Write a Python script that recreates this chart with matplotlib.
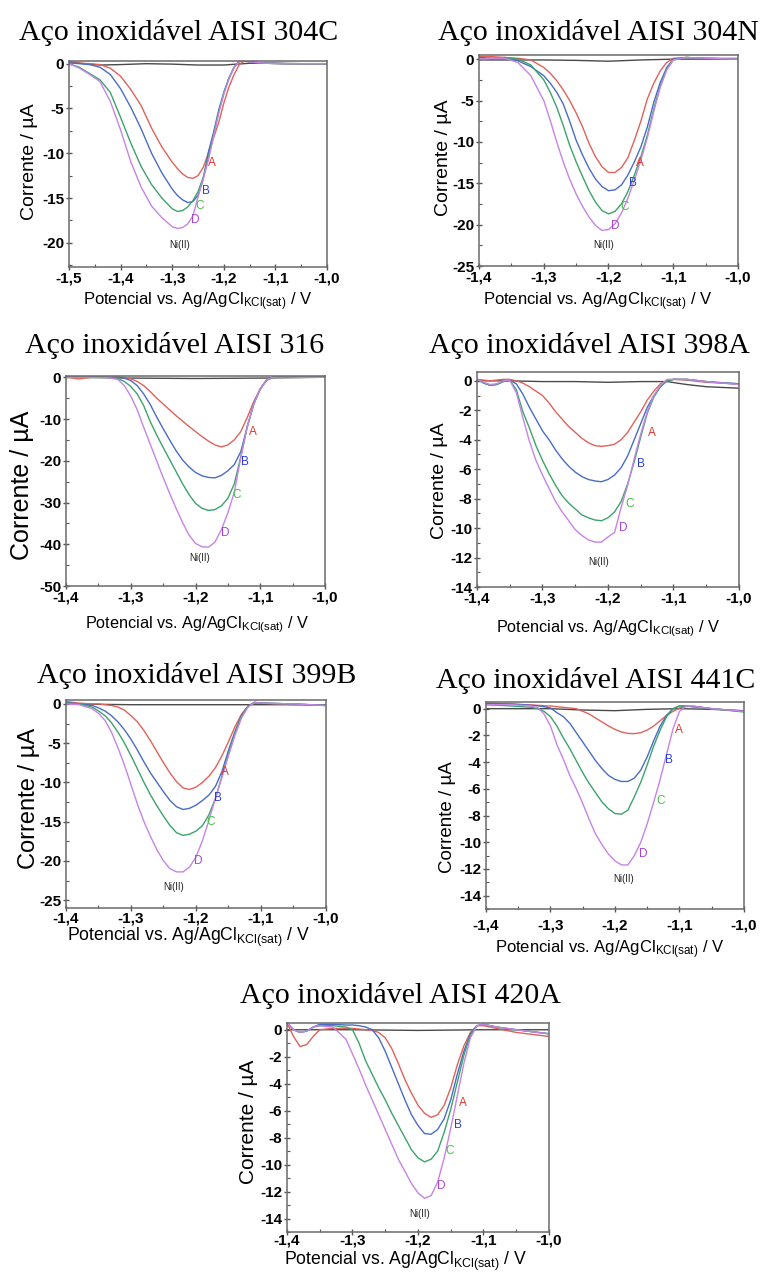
import matplotlib
matplotlib.use('Agg')
import matplotlib.pyplot as plt
import matplotlib.patheffects as pe
from matplotlib import font_manager
from matplotlib.ticker import MultipleLocator, FuncFormatter

plt.rcParams['font.family'] = ['Liberation Sans', 'DejaVu Sans']
plt.rcParams['font.weight'] = 'bold'   # tick labels are bold in the original
plt.rcParams['mathtext.fontset'] = 'custom'
plt.rcParams['mathtext.rm'] = 'Liberation Sans:weight=normal'
plt.rcParams['mathtext.it'] = 'Liberation Sans:italic:weight=normal'

# if no real bold face is found, fake it with a thin stroke
bold_file = font_manager.findfont(font_manager.FontProperties(family='Liberation Sans', weight='bold'))
fake_bold = 'bold' not in bold_file.lower()

# ---------------- data (potential / V, current / uA) ----------------
titles = ['Aço inoxidável AISI 304C', 'Aço inoxidável AISI 304N',
          'Aço inoxidável AISI 316', 'Aço inoxidável AISI 398A',
          'Aço inoxidável AISI 399B', 'Aço inoxidável AISI 441C',
          'Aço inoxidável AISI 420A']
curve_names = ['A', 'B', 'C', 'D']

# 304C
x_304C = [-1.50, -1.48, -1.46, -1.44, -1.42, -1.40, -1.38, -1.36, -1.34, -1.32, -1.30, -1.29, -1.28, -1.27, -1.26,
          -1.25, -1.24, -1.23, -1.22, -1.21, -1.20, -1.19, -1.18, -1.17, -1.16, -1.15, -1.12, -1.08, -1.04, -1.00]
A_304C = [0.1, 0.05, 0, -0.1, -0.5, -1.4, -2.9, -4.7, -7.2, -9.3, -11.0, -11.7, -12.3, -12.7, -12.8,
          -12.5, -11.6, -10.0, -8.3, -6.6, -4.4, -2.6, -1.2, -0.1, 0.3, 0.2, 0.05, 0, 0, 0]
B_304C = [0.1, 0, -0.1, -0.4, -1.2, -2.8, -4.9, -7.3, -10.0, -12.2, -14.0, -14.7, -15.2, -15.5, -15.4,
          -14.7, -12.9, -9.9, -7.7, -5.2, -3.2, -1.6, -0.4, 0.3, 0.4, 0.2, 0.05, 0, 0, 0]
C_304C = [0, -0.4, -1.1, -1.8, -3.2, -6.0, -8.9, -11.5, -13.5, -15.0, -16.2, -16.5, -16.4, -16.0, -15.3,
          -14.3, -12.7, -10.5, -8.0, -5.4, -3.3, -1.6, -0.4, 0.2, 0.4, 0.2, 0.05, 0, 0, 0]
D_304C = [0, -0.5, -1.2, -2.0, -4.2, -7.4, -11.0, -13.8, -15.9, -17.2, -18.2, -18.4, -18.3, -17.9, -17.0,
          -14.9, -12.9, -10.8, -8.2, -5.6, -3.4, -1.7, -0.4, 0.2, 0.4, 0.2, 0.05, 0, 0, 0]
blank_x_304C = [-1.50, -1.47, -1.44, -1.40, -1.35, -1.30, -1.25, -1.20, -1.15, -1.10, -1.05, -1.00]
blank_y_304C = [0.2, 0, -0.15, -0.1, 0, -0.05, -0.15, -0.15, 0.05, 0.05, 0, 0]

# 304N
x_304N = [-1.40, -1.38, -1.36, -1.34, -1.32, -1.30, -1.29, -1.28, -1.27, -1.26, -1.25, -1.24, -1.23, -1.22, -1.21,
          -1.20, -1.19, -1.18, -1.17, -1.16, -1.15, -1.14, -1.13, -1.12, -1.11, -1.10, -1.08, -1.05, -1.00]
A_304N = [0.3, 0.3, 0.2, 0.1, -0.1, -1.0, -1.7, -2.6, -3.7, -5.0, -6.5, -8.2, -10.2, -11.8, -13.0,
          -13.7, -13.7, -13.1, -11.9, -9.8, -7.5, -4.8, -2.9, -1.4, -0.4, 0.1, 0.2, 0.1, 0.1]
B_304N = [0.2, 0.1, 0.1, -0.2, -0.9, -2.0, -2.9, -4.0, -5.4, -7.5, -9.8, -11.6, -13.2, -14.5, -15.4,
          -15.9, -15.8, -15.2, -14.0, -12.4, -10.6, -8.2, -5.2, -2.8, -1.0, 0, 0.2, 0.1, 0]
C_304N = [0, 0.1, 0.2, 0, -0.7, -2.5, -4.0, -5.8, -8.0, -10.4, -12.4, -14.2, -15.9, -17.3, -18.3,
          -18.7, -18.4, -17.5, -16.0, -14.0, -11.8, -9.2, -6.0, -3.2, -1.2, -0.1, 0.2, 0.1, 0]
D_304N = [0, 0.1, 0.1, -0.4, -2.0, -5.0, -7.4, -10.0, -12.4, -14.5, -16.3, -17.8, -19.1, -20.1, -20.7,
          -20.6, -19.9, -18.6, -16.8, -14.6, -12.2, -9.5, -6.3, -3.4, -1.3, -0.1, 0.2, 0.1, 0]
blank_x_304N = [-1.40, -1.35, -1.30, -1.25, -1.20, -1.15, -1.10, -1.05, -1.00]
blank_y_304N = [-0.1, -0.1, -0.1, -0.15, -0.25, -0.1, 0, 0, 0]

# 316
x_316 = [-1.40, -1.38, -1.36, -1.34, -1.32, -1.31, -1.30, -1.29, -1.28, -1.27, -1.26, -1.25, -1.24, -1.23, -1.22, -1.21,
         -1.20, -1.19, -1.18, -1.17, -1.16, -1.15, -1.14, -1.13, -1.12, -1.11, -1.10, -1.09, -1.08, -1.06, -1.03, -1.00]
A_316 = [0, -0.4, 0, 0, 0, 0, -0.4, -1.0, -2.0, -3.4, -5.0, -6.4, -7.8, -9.2, -10.5, -11.8,
         -13.0, -14.2, -15.3, -16.2, -16.7, -16.2, -15.0, -13.0, -9.6, -5.8, -2.8, -0.7, 0, 0.1, 0, 0]
B_316 = [0, 0, 0, 0, 0, -0.2, -0.8, -2.0, -4.0, -6.5, -9.5, -12.3, -15.0, -17.6, -19.8, -21.5,
         -22.8, -23.6, -24.0, -24.1, -23.5, -22.4, -20.9, -17.8, -11.8, -6.4, -2.8, -0.6, 0, 0.1, 0, 0]
C_316 = [0, 0, 0, 0, -0.3, -1.0, -2.2, -4.0, -6.8, -10.6, -13.8, -16.8, -19.7, -22.6, -25.5, -28.1,
         -30.2, -31.4, -31.9, -31.7, -30.8, -29.0, -25.5, -19.0, -11.8, -6.4, -2.8, -0.6, 0, 0.1, 0, 0]
D_316 = [0, 0, 0, 0, -0.5, -2.0, -4.5, -7.8, -12.0, -16.0, -20.0, -24.0, -27.8, -31.4, -34.8, -37.8,
         -39.8, -40.6, -40.7, -39.5, -36.5, -32.5, -27.5, -19.2, -11.8, -6.4, -2.8, -0.6, 0, 0.1, 0, 0]
blank_x_316 = [-1.40, -1.30, -1.20, -1.10, -1.00]
blank_y_316 = [0, -0.2, -0.3, -0.2, 0]

# 398A
x_398A = [-1.40, -1.39, -1.38, -1.37, -1.36, -1.35, -1.34, -1.33, -1.32, -1.31, -1.30, -1.29, -1.28, -1.27, -1.26, -1.25, -1.24,
          -1.23, -1.22, -1.21, -1.20, -1.19, -1.18, -1.17, -1.16, -1.15, -1.14, -1.13, -1.12, -1.11, -1.10, -1.08, -1.05, -1.00]
A_398A = [0.1, 0.05, 0, 0.05, 0.1, 0.1, 0, -0.15, -0.4, -0.7, -1.0, -1.5, -2.1, -2.6, -3.1, -3.5, -3.9,
          -4.2, -4.4, -4.45, -4.4, -4.3, -4.0, -3.5, -2.8, -2.1, -1.3, -0.7, -0.2, 0, 0.1, 0.05, -0.1, -0.2]
B_398A = [0.1, -0.15, -0.3, -0.25, -0.05, 0.05, -0.2, -0.9, -1.8, -2.6, -3.4, -4.0, -4.7, -5.3, -5.8, -6.2, -6.5,
          -6.7, -6.8, -6.85, -6.7, -6.4, -5.9, -5.1, -4.0, -2.9, -1.8, -1.0, -0.4, 0, 0.1, 0.1, -0.05, -0.2]
C_398A = [0.1, -0.15, -0.3, -0.25, -0.05, 0.05, -0.6, -2.1, -3.2, -4.4, -5.4, -6.3, -7.1, -7.8, -8.3, -8.7, -9.1,
          -9.3, -9.45, -9.5, -9.3, -8.9, -8.2, -7.0, -5.5, -3.8, -2.2, -1.1, -0.4, 0, 0.1, 0.1, -0.05, -0.25]
D_398A = [0.1, -0.1, -0.25, -0.2, 0, 0.05, -0.8, -2.5, -4.1, -5.4, -6.4, -7.3, -8.2, -8.9, -9.5, -10.1, -10.5,
          -10.8, -10.95, -10.95, -10.6, -10.3, -8.6, -7.1, -5.3, -3.6, -2.1, -1.0, -0.3, 0.1, 0.1, 0.1, -0.05, -0.25]
blank_x_398A = [-1.40, -1.35, -1.30, -1.25, -1.20, -1.15, -1.11, -1.08, -1.05, -1.00]
blank_y_398A = [0, 0, -0.05, -0.05, -0.1, -0.05, -0.05, -0.25, -0.4, -0.5]

# 399B
x_399B = [-1.40, -1.38, -1.36, -1.35, -1.34, -1.33, -1.32, -1.31, -1.30, -1.29, -1.28, -1.27, -1.26, -1.25, -1.24, -1.23,
          -1.22, -1.21, -1.20, -1.19, -1.18, -1.17, -1.16, -1.15, -1.14, -1.13, -1.12, -1.11, -1.10, -1.05, -1.00]
A_399B = [0.3, 0.1, 0, 0, -0.1, -0.2, -0.4, -0.8, -1.5, -2.3, -3.4, -4.7, -6.1, -7.5, -8.8, -9.9,
          -10.7, -10.9, -10.6, -10.0, -9.2, -8.1, -6.6, -4.8, -2.9, -1.3, -0.3, 0.1, 0.1, -0.1, -0.2]
B_399B = [0.2, 0, -0.2, -0.5, -0.9, -1.5, -2.3, -3.3, -4.5, -5.9, -7.4, -8.8, -10.0, -11.2, -12.3, -13.1,
          -13.45, -13.3, -12.9, -12.3, -11.6, -10.5, -8.6, -5.9, -3.5, -1.5, -0.3, 0.2, 0.1, 0, -0.2]
C_399B = [0.1, 0, -0.4, -0.9, -1.5, -2.4, -3.6, -5.0, -6.6, -8.3, -10.0, -11.6, -13.0, -14.3, -15.5, -16.4,
          -16.75, -16.6, -16.2, -15.5, -14.1, -12.0, -9.2, -6.3, -3.7, -1.6, -0.3, 0.2, 0.1, 0, -0.2]
D_399B = [0, -0.1, -0.6, -1.2, -2.1, -3.6, -5.6, -7.8, -10.3, -12.8, -15.0, -16.9, -18.6, -20.0, -21.0, -21.4,
          -21.4, -20.8, -19.5, -17.4, -14.8, -12.0, -9.3, -6.6, -4.0, -1.8, -0.4, 0.2, 0.1, 0, -0.2]
blank_x_399B = [-1.40, -1.30, -1.20, -1.10, -1.00]
blank_y_399B = [0, -0.1, -0.1, -0.1, -0.1]

# 441C
x_441C = [-1.40, -1.36, -1.33, -1.32, -1.31, -1.30, -1.29, -1.28, -1.27, -1.26, -1.25, -1.24, -1.23, -1.22, -1.21,
          -1.20, -1.19, -1.18, -1.17, -1.16, -1.15, -1.14, -1.13, -1.12, -1.11, -1.10, -1.09, -1.08, -1.05, -1.00]
A_441C = [0.4, 0.35, 0.28, 0.25, 0.22, 0.2, 0.15, 0.1, 0.05, 0, -0.2, -0.4, -0.7, -1.0, -1.3,
          -1.55, -1.75, -1.85, -1.87, -1.8, -1.6, -1.3, -0.9, -0.5, -0.2, 0.05, 0.15, 0.2, 0, -0.2]
B_441C = [0.4, 0.35, 0.25, 0.22, 0.15, 0.05, -0.3, -0.6, -1.1, -1.8, -2.5, -3.2, -3.9, -4.5, -5.0,
          -5.3, -5.45, -5.45, -5.2, -4.6, -3.6, -2.4, -1.3, -0.5, 0, 0.2, 0.2, 0.15, 0, -0.2]
C_441C = [0.3, 0.2, 0.1, 0, -0.2, -0.6, -1.3, -2.2, -3.0, -3.9, -4.8, -5.6, -6.3, -7.0, -7.5,
          -7.85, -7.9, -7.6, -6.6, -5.5, -4.2, -2.8, -1.6, -0.6, 0, 0.2, 0.2, 0.15, 0, -0.25]
D_441C = [0.3, 0.3, 0.2, 0.1, -0.4, -1.3, -2.7, -3.8, -5.0, -6.0, -7.1, -8.3, -9.4, -10.2, -10.9,
          -11.4, -11.7, -11.7, -11.0, -10.0, -8.6, -7.0, -5.3, -3.4, -1.5, -0.2, 0.2, 0.2, 0, -0.2]
blank_x_441C = [-1.40, -1.35, -1.30, -1.25, -1.20, -1.15, -1.10, -1.05, -1.00]
blank_y_441C = [0, 0, 0, -0.1, -0.15, -0.05, 0, -0.05, -0.15]

# 420A
x_420A = [-1.40, -1.39, -1.38, -1.37, -1.36, -1.35, -1.33, -1.31, -1.30, -1.29, -1.28, -1.27, -1.26, -1.25, -1.24, -1.23,
          -1.22, -1.21, -1.20, -1.19, -1.18, -1.17, -1.16, -1.15, -1.14, -1.13, -1.12, -1.11, -1.10, -1.08, -1.05, -1.00]
A_420A = [0.5, -0.5, -1.25, -1.1, -0.5, 0, 0.1, 0.1, 0.1, 0.05, 0, -0.05, -0.2, -0.6, -1.4, -2.5,
          -3.7, -4.7, -5.6, -6.2, -6.5, -6.3, -5.6, -4.3, -2.6, -1.2, -0.2, 0.3, 0.3, 0.1, -0.2, -0.5]
B_420A = [0.5, 0, -0.2, -0.1, 0.2, 0.4, 0.4, 0.35, 0.35, 0.3, 0.2, 0, -0.6, -1.6, -2.8, -4.0,
          -5.2, -6.3, -7.1, -7.7, -7.75, -7.4, -6.6, -5.2, -3.3, -1.6, -0.3, 0.3, 0.4, 0.2, 0, -0.3]
C_420A = [0.5, 0, -0.2, -0.1, 0.2, 0.3, 0.3, 0.2, 0, -1.0, -2.3, -3.3, -4.3, -5.2, -6.2, -7.1,
          -8.0, -8.9, -9.5, -9.8, -9.6, -9.0, -7.6, -5.9, -3.9, -1.9, -0.4, 0.3, 0.4, 0.2, 0, -0.3]
D_420A = [0.5, 0, -0.2, -0.1, 0.2, 0.3, 0.2, -0.7, -1.8, -2.9, -4.1, -5.2, -6.3, -7.4, -8.5, -9.6,
          -10.5, -11.4, -12.1, -12.5, -12.3, -11.3, -9.5, -7.3, -4.9, -2.5, -0.6, 0.3, 0.4, 0.2, 0, -0.3]
blank_x_420A = [-1.40, -1.30, -1.20, -1.10, -1.00]
blank_y_420A = [0, 0, -0.05, 0, 0]

# label positions for A, B, C, D and Ni(II) (x, y in data units)
labels_304C = [(-1.223, -11.1), (-1.235, -14.2), (-1.246, -15.9), (-1.256, -17.5), (-1.285, -20.2)]
labels_304N = [(-1.152, -12.6), (-1.162, -15.0), (-1.175, -17.9), (-1.189, -20.2), (-1.208, -22.5)]
labels_316 = [(-1.112, -13.1), (-1.123, -20.3), (-1.136, -28.1), (-1.154, -37.3), (-1.193, -43.3)]
labels_398A = [(-1.133, -3.56), (-1.150, -5.67), (-1.167, -8.37), (-1.177, -9.98), (-1.215, -12.3)]
labels_399B = [(-1.156, -8.7), (-1.167, -12.0), (-1.178, -15.1), (-1.197, -20.0), (-1.234, -23.3)]
labels_441C = [(-1.101, -1.6), (-1.116, -3.86), (-1.129, -6.9), (-1.156, -10.9), (-1.187, -12.76)]
labels_420A = [(-1.131, -5.4), (-1.139, -7.05), (-1.151, -9.0), (-1.165, -11.6), (-1.197, -13.7)]

# ---------------- layout / style ----------------
W, H = 763, 1275
line_colors = ['#e0625a', '#4a6cc4', '#3da36c', '#c684e6']
text_colors = ['#e8332b', '#2c3fd2', '#45c045', '#a845d8']
base_color = '#4a4a4a'

# box = axes in px (left, right, top, bottom); title = (x, baseline);
# xl = xlabel (x, baseline, size); yl = ylabel (x, y, size); xpad = tick label gap
panels = [
    dict(x=x_304C, ys=[A_304C, B_304C, C_304C, D_304C], bx=blank_x_304C, by=blank_y_304C, lab=labels_304C,
         box=(69, 327, 61, 267), xlim=(-1.5, -1.0), ylim=(-22.7, 0.3), ystep=5, xpad=1,
         title=(179, 40), xl=(198, 305, 12), yl=(29, 162, 14)),
    dict(x=x_304N, ys=[A_304N, B_304N, C_304N, D_304N], bx=blank_x_304N, by=blank_y_304N, lab=labels_304N,
         box=(479, 738, 55, 266), xlim=(-1.4, -1.0), ylim=(-25, 0.5), ystep=5, xpad=1,
         title=(598, 40), xl=(598, 305, 12), yl=(443, 158, 14)),
    dict(x=x_316, ys=[A_316, B_316, C_316, D_316], bx=blank_x_316, by=blank_y_316, lab=labels_316,
         box=(66, 325, 376, 586), xlim=(-1.4, -1.0), ylim=(-50, 0.3), ystep=10, xpad=1,
         title=(175, 353), xl=(197, 628, 11.7), yl=(22, 485, 18)),
    dict(x=x_398A, ys=[A_398A, B_398A, C_398A, D_398A], bx=blank_x_398A, by=blank_y_398A, lab=labels_398A,
         box=(477, 739, 372, 587), xlim=(-1.4, -1.0), ylim=(-14, 0.6), ystep=2, xpad=1,
         title=(589, 353), xl=(608, 632, 11.7), yl=(439, 481, 14)),
    dict(x=x_399B, ys=[A_399B, B_399B, C_399B, D_399B], bx=blank_x_399B, by=blank_y_399B, lab=labels_399B,
         box=(66, 326, 700, 908), xlim=(-1.4, -1.0), ylim=(-26, 0.5), ystep=5, xpad=0,
         title=(197, 683), xl=(189, 941, 12.7), yl=(29, 798, 17)),
    dict(x=x_441C, ys=[A_441C, B_441C, C_441C, D_441C], bx=blank_x_441C, by=blank_y_441C, lab=labels_441C,
         box=(486, 744, 702, 909), xlim=(-1.4, -1.0), ylim=(-15, 0.5), ystep=2, xpad=4,
         title=(596, 688), xl=(610, 953, 12), yl=(447, 817, 13.5)),
    dict(x=x_420A, ys=[A_420A, B_420A, C_420A, D_420A], bx=blank_x_420A, by=blank_y_420A, lab=labels_420A,
         box=(287, 549, 1023, 1232), xlim=(-1.4, -1.0), ylim=(-15, 0.5), ystep=2, xpad=-1.5,
         title=(400, 1003), xl=(406, 1265, 12.7), yl=(249, 1122, 15)),
]

fig = plt.figure(figsize=(W / 100, H / 100), dpi=100)

def comma(v, pos):
    return ('%.1f' % v).replace('.', ',')

axes = []
for title, p in zip(titles, panels):
    l, r, t, b = p['box']
    ax = fig.add_axes([l / W, 1 - b / H, (r - l) / W, (b - t) / H])
    axes.append(ax)
    ax.plot(p['bx'], p['by'], color=base_color, lw=1.0)
    for ys, c in zip(p['ys'], line_colors):
        ax.plot(p['x'], ys, color=c, lw=1.0)
    for (lx, ly), name, c in zip(p['lab'][:4], curve_names, text_colors):
        ax.text(lx, ly, name, color=c, fontsize=8.5, fontweight='normal', ha='center', va='center')
    nx, ny = p['lab'][4]
    ax.text(nx, ny, 'Ni(II)', color='#222222', fontsize=7, fontweight='normal', ha='center', va='center')

    ax.set_xlim(*p['xlim'])
    ax.set_ylim(*p['ylim'])
    ax.xaxis.set_major_locator(MultipleLocator(0.1))
    ax.xaxis.set_minor_locator(MultipleLocator(0.05))
    ax.xaxis.set_major_formatter(FuncFormatter(comma))
    ax.yaxis.set_major_locator(MultipleLocator(p['ystep']))
    ax.yaxis.set_minor_locator(MultipleLocator(p['ystep'] / 2))
    ax.yaxis.set_major_formatter(FuncFormatter(lambda v, pos: '%d' % round(v)))
    ax.tick_params(which='major', direction='inout', length=5, width=1, color='#555555',
                   labelsize=11, pad=1)
    ax.tick_params(axis='x', which='major', pad=p['xpad'])
    ax.tick_params(which='minor', direction='in', length=2.5, width=0.8, color='#555555')
    for s in ax.spines.values():
        s.set_color('#6a6a6a')
        s.set_linewidth(1.1)

    fig.text(p['title'][0] / W, 1 - p['title'][1] / H, title, family='Liberation Serif',
             fontweight='normal', fontsize=21.5, ha='center', va='baseline')
    xlx, xly, xls = p['xl']
    fig.text(xlx / W, 1 - xly / H, r'Potencial vs. Ag/AgCl$_{\mathrm{KCl(sat)}}$ / V',
             fontsize=xls, fontweight='normal', ha='center', va='baseline')
    ylx, yly, yls = p['yl']
    fig.text(ylx / W, 1 - yly / H, 'Corrente / µA', fontsize=yls, fontweight='normal',
             rotation=90, ha='center', va='center')

fig.canvas.draw()
for ax in axes:
    for lab in ax.get_xticklabels() + ax.get_yticklabels():
        lab.set_fontweight('bold')
        if fake_bold:
            lab.set_path_effects([pe.withStroke(linewidth=0.8, foreground='black')])

fig.savefig('out.png', dpi=100)
